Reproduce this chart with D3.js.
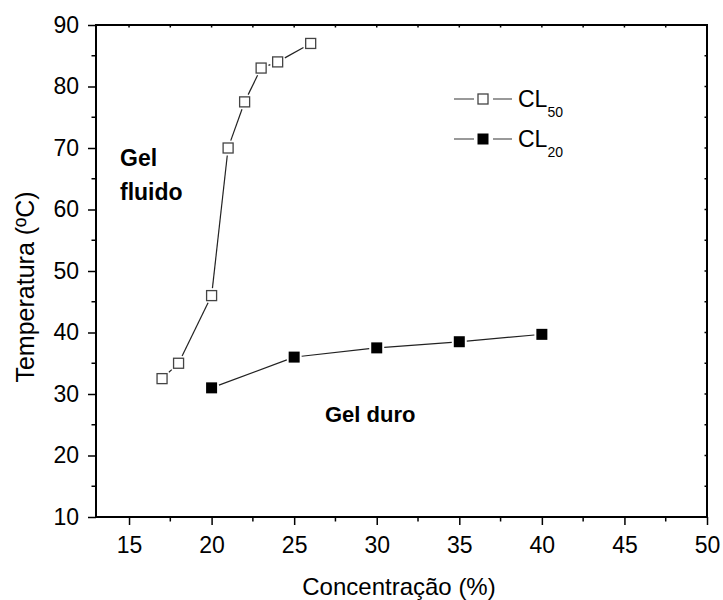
<!DOCTYPE html>
<html>
<head>
<meta charset="utf-8">
<script src="https://cdn.jsdelivr.net/npm/d3@7"></script>
<style>
  body { margin: 0; background: #fff; }
  svg text { font-family: "Liberation Sans", Arial, Helvetica, sans-serif; fill: #000; }
</style>
</head>
<body>
<div id="chart"></div>
<script>
// data
var cl50X = [17, 18, 20, 21, 22, 23, 24, 26];
var cl50Y = [32.5, 35, 46, 70, 77.5, 83, 84, 87];
var cl20X = [20, 25, 30, 35, 40];
var cl20Y = [31, 36, 37.5, 38.5, 39.7];
var xTicks = [15, 20, 25, 30, 35, 40, 45, 50];
var yTicks = [10, 20, 30, 40, 50, 60, 70, 80, 90];
var seriesNames = ["50", "20"];

var W = 723, H = 600;
var margin = {top: 25, right: 16, bottom: 83, left: 96};

var x = d3.scaleLinear().domain([13, 50]).range([margin.left, W - margin.right]);
var y = d3.scaleLinear().domain([10, 90]).range([H - margin.bottom, margin.top]);

var svg = d3.select("#chart").append("svg")
    .attr("width", W)
    .attr("height", H);

// minor tick positions
var xMinor = d3.range(15, 50.1, 2.5);
var yMinor = d3.range(15, 90, 10);

// Bottom axis
var xAxis = d3.axisBottom(x).tickValues(xTicks).tickSize(8).tickFormat(d3.format("d"));
var gx = svg.append("g")
    .attr("transform", "translate(0," + y.range()[0] + ")")
    .call(xAxis);
gx.select(".domain").remove();
gx.selectAll("line").attr("stroke", "#000").attr("stroke-width", 1.5);
gx.selectAll("text").style("font-size", "23px").attr("y", 36).attr("dy", 0);
gx.selectAll(".minor").data(xMinor.filter(function(d){ return xTicks.indexOf(d) < 0; }))
  .enter().append("line")
    .attr("x1", function(d){ return x(d); }).attr("x2", function(d){ return x(d); })
    .attr("y1", 0).attr("y2", 4.5)
    .attr("stroke", "#000").attr("stroke-width", 1.5);

// Left axis
var yAxis = d3.axisLeft(y).tickValues(yTicks).tickSize(8).tickPadding(9);
var gy = svg.append("g")
    .attr("transform", "translate(" + x.range()[0] + ",0)")
    .call(yAxis);
gy.select(".domain").remove();
gy.selectAll("line").attr("stroke", "#000").attr("stroke-width", 1.5);
gy.selectAll("text").style("font-size", "23px");
gy.selectAll(".minor").data(yMinor)
  .enter().append("line")
    .attr("x1", -4.5).attr("x2", 0)
    .attr("y1", function(d){ return y(d); }).attr("y2", function(d){ return y(d); })
    .attr("stroke", "#000").attr("stroke-width", 1.5);

// top and right: short inward ticks
svg.selectAll(".topTick").data(xMinor)
  .enter().append("line")
    .attr("x1", function(d){ return x(d); }).attr("x2", function(d){ return x(d); })
    .attr("y1", y.range()[1]).attr("y2", y.range()[1] + 2.5)
    .attr("stroke", "#000").attr("stroke-width", 1.5);
svg.selectAll(".rightTick").data(d3.range(15, 90, 5))
  .enter().append("line")
    .attr("x1", x.range()[1] - 2.5).attr("x2", x.range()[1])
    .attr("y1", function(d){ return y(d); }).attr("y2", function(d){ return y(d); })
    .attr("stroke", "#000").attr("stroke-width", 1.5);

// frame
svg.append("rect")
    .attr("x", x.range()[0]).attr("y", y.range()[1])
    .attr("width", x.range()[1] - x.range()[0])
    .attr("height", y.range()[0] - y.range()[1])
    .attr("fill", "none").attr("stroke", "#000").attr("stroke-width", 2);

// axis titles
svg.append("text")
    .attr("x", 399)
    .attr("y", 595)
    .attr("text-anchor", "middle")
    .style("font-size", "24px")
    .text("Concentração (%)");

svg.append("text")
    .attr("transform", "translate(34,287) rotate(-90)")
    .attr("text-anchor", "middle")
    .style("font-size", "25px")
    .text("Temperatura (ºC)");

// connecting segments, with a gap at each marker like the original
var half = 5, gap = 2.5;
function drawSegments(xs, ys) {
  for (var i = 0; i < xs.length - 1; i++) {
    var x1 = x(xs[i]), y1 = y(ys[i]), x2 = x(xs[i+1]), y2 = y(ys[i+1]);
    var dx = x2 - x1, dy = y2 - y1, len = Math.sqrt(dx*dx + dy*dy);
    // distance from center to square edge along the direction
    var t = half / Math.max(Math.abs(dx), Math.abs(dy)) * len + gap;
    if (len <= 2 * t) continue;
    var ux = dx / len, uy = dy / len;
    svg.append("line")
      .attr("x1", x1 + ux * t).attr("y1", y1 + uy * t)
      .attr("x2", x2 - ux * t).attr("y2", y2 - uy * t)
      .attr("stroke", "#222").attr("stroke-width", 1.2);
  }
}
drawSegments(cl50X, cl50Y);
drawSegments(cl20X, cl20Y);

var pts50 = cl50X.map(function(d, i){ return [d, cl50Y[i]]; });
var pts20 = cl20X.map(function(d, i){ return [d, cl20Y[i]]; });

svg.selectAll(".open").data(pts50)
  .enter().append("rect")
    .attr("x", function(d){ return x(d[0]) - half; })
    .attr("y", function(d){ return y(d[1]) - half; })
    .attr("width", 2 * half).attr("height", 2 * half)
    .attr("fill", "#fff").attr("stroke", "#444").attr("stroke-width", 1.3);

svg.selectAll(".filled").data(pts20)
  .enter().append("rect")
    .attr("x", function(d){ return x(d[0]) - half - 0.5; })
    .attr("y", function(d){ return y(d[1]) - half - 0.5; })
    .attr("width", 2 * half + 1).attr("height", 2 * half + 1)
    .attr("fill", "#000");

// region labels
svg.append("text").attr("x", 120).attr("y", 166)
    .style("font-size", "23px").style("font-weight", "bold").text("Gel");
svg.append("text").attr("x", 120).attr("y", 200)
    .style("font-size", "23px").style("font-weight", "bold").text("fluido");
svg.append("text").attr("x", 325).attr("y", 422)
    .style("font-size", "22px").style("font-weight", "bold").text("Gel duro");

// legend
var legend = svg.append("g");
seriesNames.forEach(function(name, i) {
  var cy = 99 + i * 40;
  legend.append("line").attr("x1", 454).attr("x2", 474).attr("y1", cy).attr("y2", cy)
      .attr("stroke", "#555").attr("stroke-width", 1.2);
  legend.append("line").attr("x1", 493).attr("x2", 512).attr("y1", cy).attr("y2", cy)
      .attr("stroke", "#555").attr("stroke-width", 1.2);
  if (i == 0) {
    legend.append("rect").attr("x", 478).attr("y", cy - 5).attr("width", 10).attr("height", 10)
        .attr("fill", "#fff").attr("stroke", "#444").attr("stroke-width", 1.3);
  } else {
    legend.append("rect").attr("x", 477.5).attr("y", cy - 5.5).attr("width", 11).attr("height", 11)
        .attr("fill", "#000");
  }
  var t = legend.append("text").attr("x", 518).attr("y", cy + 8).style("font-size", "23px");
  t.append("tspan").text("CL");
  t.append("tspan").attr("dy", 10).style("font-size", "14px").text(name);
});
</script>
</body>
</html>
